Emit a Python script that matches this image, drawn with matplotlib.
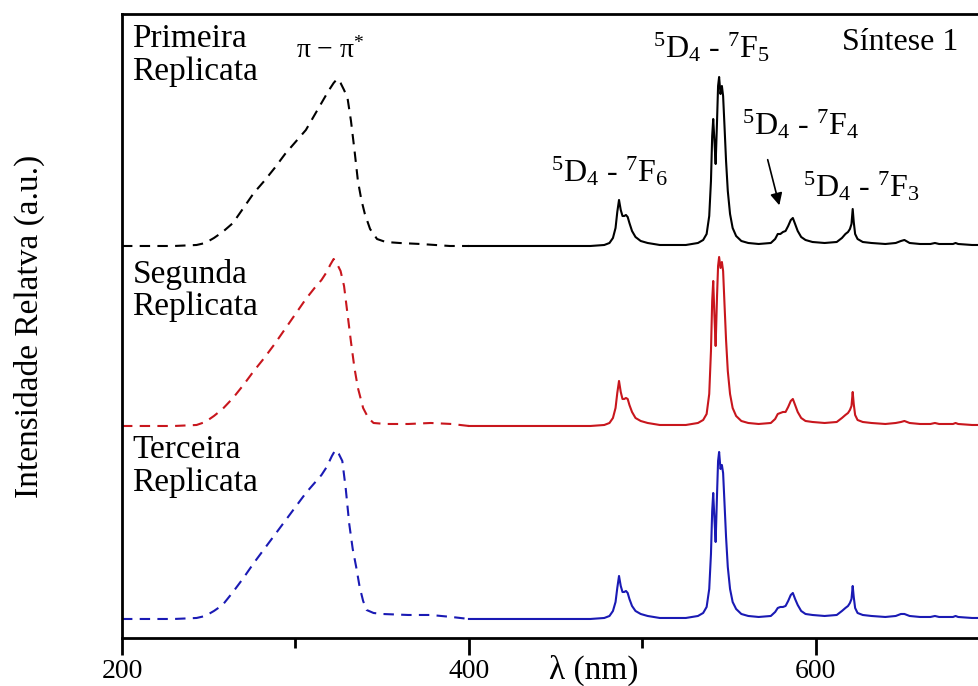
import matplotlib
matplotlib.use("Agg")
import matplotlib.pyplot as plt

plt.rcParams['font.family'] = ['Liberation Serif', 'DejaVu Serif']
plt.rcParams['mathtext.fontset'] = 'custom'
plt.rcParams['mathtext.rm'] = 'Liberation Serif'
plt.rcParams['mathtext.it'] = 'Liberation Serif:italic'

# excitation spectra (dashed), heights above each baseline
exc_black_x = [200, 230, 243, 248, 253, 258, 264, 270, 276, 282, 288, 294, 300, 306, 311, 315, 319,
               322, 324, 326, 328, 330, 332, 334, 336, 338, 340, 343, 347, 352, 360, 372, 389, 400]
exc_black_y = [0, 0, 1, 3, 8, 14, 23, 38, 53, 65, 78, 92, 104, 116, 131, 143, 155,
               163, 167, 163, 156, 148, 125, 96, 65, 46, 32, 17, 7, 4, 3, 2, 0, 0]

exc_red_x = [200, 230, 243, 248, 253, 258, 264, 270, 276, 282, 288, 294, 300, 306, 311, 315, 318,
             320, 322, 324, 326, 328, 330, 332, 334, 336, 339, 342, 345, 352, 365, 378, 390, 400]
exc_red_y = [0, 0, 1, 4, 10, 17, 28, 41, 55, 68, 82, 97, 112, 127, 138, 146, 154,
             161, 167, 162, 155, 140, 112, 84, 58, 38, 18, 8, 3, 2, 2, 3, 2, 0]

exc_blue_x = [200, 230, 243, 248, 253, 258, 264, 270, 276, 282, 288, 294, 300, 306, 311, 315, 318,
              321, 323, 325, 327, 329, 331, 333, 335, 337, 339, 341, 345, 350, 365, 378, 390, 400]
exc_blue_y = [0, 0, 1, 3, 8, 14, 27, 41, 56, 70, 84, 98, 112, 126, 136, 144, 152,
              163, 169, 165, 158, 130, 95, 70, 52, 32, 18, 9, 6, 5, 4, 4, 2, 0]

# emission spectra (solid), common wavelength grid
emi_x = [400, 470, 478, 481, 483, 484.5, 485.5, 486.5, 487.5, 488.5,
         489.5, 490.5, 491.5, 492.5, 494, 496, 499, 503, 510, 525,
         532, 535, 537, 538.5, 539.5, 540.2, 540.8, 541.5, 542.2, 543,
         543.6, 544.2, 545, 545.8, 546.5, 547.3, 548.2, 549.2, 550.5, 552,
         554, 557, 561, 567, 574, 576.5, 578, 579.5, 581, 582.5,
         584, 585.5, 586.7, 588, 589.5, 591.5, 594, 598, 605, 612,
         615, 617, 618.5, 619.6, 620.5, 621.2, 621.8, 622.6, 624, 627,
         632, 640, 646, 649, 651, 654, 660, 666, 668.6, 671,
         676, 679, 680.5, 682, 690, 700, 750]
emi_black_y = [0, 0, 1, 3, 8, 18, 34, 46, 36, 30,
               30, 31, 29, 23, 15, 9, 5, 3, 1, 1,
               3, 6, 12, 30, 65, 110, 127, 105, 82, 125,
               160, 169, 152, 160, 150, 120, 85, 55, 32, 18,
               10, 5, 3, 2, 3, 7, 12, 12, 14, 15,
               20, 26, 28, 22, 15, 9, 6, 4, 3, 4,
               8, 12, 14, 17, 22, 37, 24, 12, 7, 4,
               3, 2, 3, 5, 6, 3, 2, 2, 3, 2,
               2, 2, 3, 2, 1, 1, 1]
emi_red_y = [0, 0, 1, 3, 8, 18, 33, 45, 34, 27,
             27, 28, 27, 21, 14, 8, 5, 3, 1, 1,
             3, 6, 12, 32, 75, 125, 145, 110, 80, 130,
             160, 169, 158, 164, 155, 122, 86, 55, 32, 18,
             10, 5, 3, 2, 3, 7, 12, 13, 14, 14,
             19, 25, 27, 21, 14, 8, 5, 4, 3, 4,
             8, 11, 13, 16, 20, 34, 22, 11, 6, 4,
             3, 2, 3, 4, 5, 3, 2, 2, 3, 2,
             2, 2, 3, 2, 1, 1, 1]
emi_blue_y = [0, 0, 1, 3, 8, 17, 31, 43, 33, 27,
              27, 28, 26, 20, 13, 8, 5, 3, 1, 1,
              3, 6, 12, 30, 65, 108, 126, 100, 77, 125,
              158, 167, 150, 154, 146, 116, 82, 52, 30, 17,
              10, 5, 3, 2, 3, 7, 11, 12, 12, 13,
              18, 24, 26, 20, 14, 8, 5, 4, 3, 4,
              8, 11, 13, 16, 20, 33, 22, 11, 6, 4,
              3, 2, 3, 5, 5, 3, 2, 2, 3, 2,
              2, 2, 3, 2, 1, 1, 1]

offsets = [392, 212, 19]
colors = ['black', '#c8161d', '#1a1ab4']
exc_x = [exc_black_x, exc_red_x, exc_blue_x]
exc_y = [exc_black_y, exc_red_y, exc_blue_y]
emi_y = [emi_black_y, emi_red_y, emi_blue_y]
names = ['Primeira\nReplicata', 'Segunda\nReplicata', 'Terceira\nReplicata']
name_y = [614, 379, 203]

fig = plt.figure(figsize=(9.79, 6.86), dpi=100)
ax = fig.add_axes([0.1246, 0.070, 0.964, 0.9096])

for i in range(3):
    ex = [v + offsets[i] for v in exc_y[i]]
    em = [v + offsets[i] for v in emi_y[i]]
    ax.plot(exc_x[i], ex, color=colors[i], lw=1.5, dashes=(5, 3.5))
    ax.plot(emi_x, em, color=colors[i], lw=1.5)
    ax.text(206, name_y[i], names[i], fontsize=24, ha='left', va='top', linespacing=1.08)

ax.set_xlim(200, 744)
ax.set_ylim(0, 624)
ax.set_xticks([200, 400, 600])
ax.set_xticks([300, 500, 700], minor=True)
ax.set_yticks([])
ax.tick_params(axis='x', which='major', length=12, width=2, direction='out', labelsize=20, pad=3)
ax.tick_params(axis='x', which='minor', length=7, width=2, direction='out')
for s in ax.spines.values():
    s.set_linewidth(2)

ax.set_xlabel('λ (nm)', fontsize=24)
ax.xaxis.set_label_coords(0.5, -0.027)
ax.set_ylabel('Intensidade Relatva (a.u.)', fontsize=24)
ax.yaxis.set_label_coords(-0.082, 0.5)

ax.text(320, 580, 'π − π$^{*}$', fontsize=20, ha='center', va='baseline')
ax.text(540, 580, '$^{5}$D$_{4}$ - $^{7}$F$_{5}$', fontsize=23, ha='center', va='baseline')
ax.text(481, 456, '$^{5}$D$_{4}$ - $^{7}$F$_{6}$', fontsize=23, ha='center', va='baseline')
ax.text(591, 503, '$^{5}$D$_{4}$ - $^{7}$F$_{4}$', fontsize=23, ha='center', va='baseline')
ax.text(626, 441, '$^{5}$D$_{4}$ - $^{7}$F$_{3}$', fontsize=23, ha='center', va='baseline')
ax.text(682, 588, 'Síntese 1', fontsize=23, ha='right', va='baseline')
ax.annotate('', xy=(579.3, 430), xytext=(571.8, 481),
            arrowprops=dict(arrowstyle='-|>', color='black', lw=1.2, mutation_scale=18))

fig.savefig('out.png', dpi=100)
